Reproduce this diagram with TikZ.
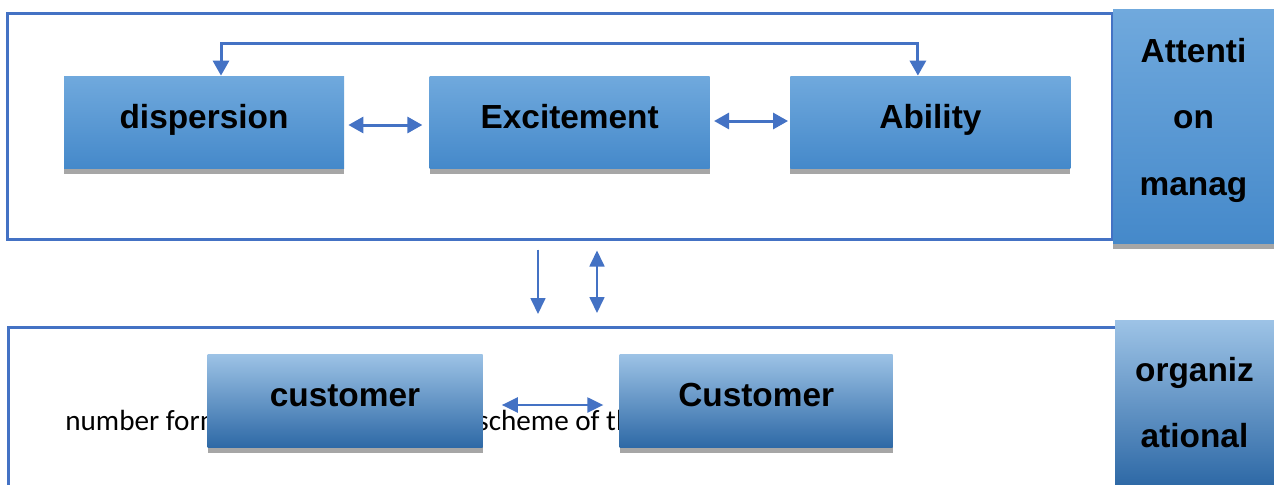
\documentclass[tikz,border=0pt]{standalone}
\usepackage{fontspec}
\setmainfont{Liberation Sans}
\newfontfamily\notefont{Carlito}
\usepackage{xcolor}
\definecolor{frameblue}{HTML}{4472C4}
\definecolor{boxtop}{HTML}{70A9DD}
\definecolor{boxbot}{HTML}{4589CA}
\definecolor{deeptop}{HTML}{9DC3E6}
\definecolor{deepbot}{HTML}{2E69A6}
\definecolor{shadowgray}{HTML}{A6A6A6}
\usepackage{tikz}
\usetikzlibrary{arrows.meta,positioning,shadows}

\begin{document}
\begin{tikzpicture}[
  shaded/.style={inner sep=0pt,font=\fontsize{19}{23}\selectfont\bfseries,drop shadow={shadow xshift=0mm,shadow yshift=-1.2mm,fill=shadowgray,opacity=1}},
  box/.style={shaded,top color=boxtop,bottom color=boxbot,minimum width=56mm,minimum height=18.4mm,text height=0.9em,text depth=0.2em},
  lowbox/.style={box,top color=deeptop,bottom color=deepbot,minimum width=55mm,minimum height=18.6mm},
  side/.style={shaded,align=center,font=\fontsize{19}{37.8}\selectfont\bfseries},
  frame/.style={draw=frameblue,line width=0.6mm},
  note/.style={font=\notefont\fontsize{16.6}{20}\selectfont,inner sep=0pt,anchor=base west},
  arrow/.style={{Triangle[length=3mm,width=3.2mm]}-{Triangle[length=3mm,width=3.2mm]},line width=0.6mm,draw=frameblue},
  thinarrow/.style={-{Triangle[length=3.2mm,width=3mm]},line width=0.35mm,draw=frameblue},
  twoarrow/.style={thinarrow,{Triangle[length=3.2mm,width=3mm]}-{Triangle[length=3.2mm,width=3mm]}}
]
\useasboundingbox (0,0) rectangle (25.48,-9.7);

% upper group: frame, three boxes, side label
\node[frame,minimum width=220.8mm,minimum height=45.2mm] (attfr) at (11.2,-2.52) {};
\node[box] (disp) at (4.08,-2.44) {dispersion};
\node[box,right=17mm of disp] (exc) {Excitement};
\node[box,right=16mm of exc] (abil) {Ability};
\node[side,top color=boxtop,bottom color=boxbot,minimum width=32.2mm,minimum height=46.8mm,text depth=3.8mm] (attn) at (23.87,-2.52) {Attenti\\on\\manag};

\draw[arrow,shorten <=0.8mm,shorten >=1.4mm] ([yshift=-0.6mm]disp.east) -- ([yshift=-0.6mm]exc.west);
\draw[arrow,shorten <=0.8mm,shorten >=0.4mm] ([yshift=0.2mm]exc.east) -- ([yshift=0.2mm]abil.west);
\draw[arrow] ([xshift=3.4mm]disp.north) -- ++(0,6.4mm) -| ([xshift=-2.5mm]abil.north);

% lower group, open at the bottom
\draw[frame] (0.16,-9.7) |- (22.32,-6.54) -- (22.32,-9.7);
\coordinate (orgtop) at (11.2,-6.54);
\node[note] (numtxt) at (1.3,-8.6) {number form};
\node[note] (schtxt) at (9.54,-8.6) {scheme of the};
\node[lowbox] (cust) at (6.9,-8.01) {customer};
\node[lowbox,right=27.3mm of cust,minimum width=54.6mm] (cust2) {Customer};
\node[side,top color=deeptop,bottom color=deepbot,minimum width=31.8mm,minimum height=33mm] (org) at (23.89,-8.05) {organiz\\ational};

\draw[twoarrow,line width=0.45mm,shorten <=3.8mm,shorten >=3.2mm] ([yshift=-0.9mm]cust.east) -- ([yshift=-0.9mm]cust2.west);

% links between the two groups
\draw[thinarrow] ([xshift=-4.4mm,yshift=-1.8mm]attfr.south) -- ([xshift=-4.4mm,yshift=2.6mm]orgtop);
\draw[twoarrow] ([xshift=7.4mm,yshift=-2mm]attfr.south) -- ([xshift=7.4mm,yshift=2.8mm]orgtop);
\end{tikzpicture}
\end{document}
